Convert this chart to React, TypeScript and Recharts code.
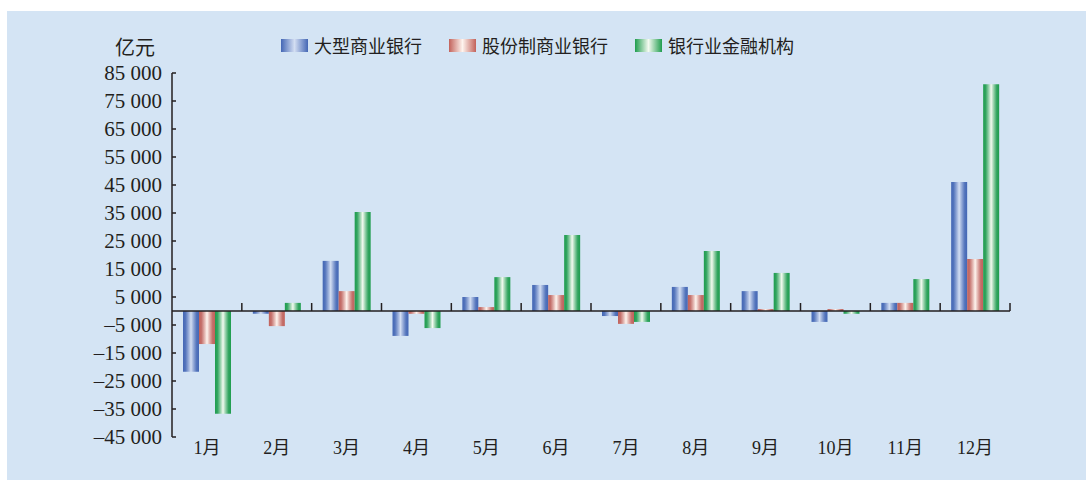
import React from 'react';
import { BarChart, Bar, XAxis, YAxis, ReferenceLine } from 'recharts';

// 单位：亿元
const months = ['1月', '2月', '3月', '4月', '5月', '6月', '7月', '8月', '9月', '10月', '11月', '12月'];
const largeBanks = [-21700, -1000, 17900, -8900, 5000, 9300, -1800, 8600, 7100, -3900, 2900, 46100];
const jointStockBanks = [-11800, -5400, 7100, -1000, 1400, 5700, -4600, 5700, 700, 700, 2900, 18600];
const allInstitutions = [-36700, 2900, 35400, -6100, 12100, 27100, -3900, 21400, 13600, -1000, 11400, 81000];
const yTicks = [-45000, -35000, -25000, -15000, -5000, 5000, 15000, 25000, 35000, 45000, 55000, 65000, 75000, 85000];

const seriesNames = ['大型商业银行', '股份制商业银行', '银行业金融机构'];

const data = months.map((m, i) => ({
  month: m,
  large: largeBanks[i],
  joint: jointStockBanks[i],
  all: allInstitutions[i],
}));

// layout
const W = 1079;
const H = 469;
const M = { top: 62, right: 76, bottom: 13, left: 65 };
const Y_AXIS_W = 100;
const X_AXIS_H = 30;
const PLOT_L = M.left + Y_AXIS_W;
const PLOT_R = W - M.right;
const PLOT_T = M.top;
const PLOT_B = H - M.bottom - X_AXIS_H;
const Y_MIN = -45000;
const Y_MAX = 85000;
const ZERO_Y = PLOT_T + ((PLOT_B - PLOT_T) * Y_MAX) / (Y_MAX - Y_MIN);
const BAND = (PLOT_R - PLOT_L) / months.length;

const INK = '#231f20';
const SERIF = '"Liberation Serif", "Noto Sans CJK SC", serif';
const CJK = '"Noto Sans CJK SC", sans-serif';

const gradients = [
  { id: 'gBlue', dark: '#4467b5', light: '#d3def2' },
  { id: 'gRed', dark: '#c2625b', light: '#fef4ee' },
  { id: 'gGreen', dark: '#1f9d4e', light: '#f3faf0' },
];

const formatY = (v: number) => {
  const s = Math.abs(v)
    .toString()
    .replace(/\B(?=(\d{3})+(?!\d))/g, ' ');
  return v < 0 ? `–${s}` : s;
};

const XTick = (props: any) => {
  const { x, payload } = props;
  const edge = x + BAND / 2;
  return (
    <g>
      <line x1={edge} x2={edge} y1={ZERO_Y - 8} y2={ZERO_Y} stroke={INK} strokeWidth={1.5} />
      <text
        x={x}
        y={PLOT_B + 11}
        textAnchor="middle"
        dominantBaseline="central"
        fontFamily={SERIF}
        fontSize={18}
        fill={INK}
      >
        {payload.value}
      </text>
    </g>
  );
};

const YTick = (props: any) => {
  const { y, payload } = props;
  return (
    <g>
      <line x1={PLOT_L} x2={PLOT_L + 4} y1={y} y2={y} stroke={INK} strokeWidth={1.5} />
      <text
        x={PLOT_L - 10}
        y={y}
        textAnchor="end"
        dominantBaseline="central"
        fontFamily={SERIF}
        fontSize={21}
        fill={INK}
      >
        {formatY(payload.value)}
      </text>
    </g>
  );
};

const ChartLegend = () => (
  <div
    style={{
      position: 'absolute',
      left: 274,
      top: 24,
      display: 'flex',
      alignItems: 'center',
      gap: 27,
      fontFamily: CJK,
      fontSize: 18,
      color: INK,
    }}
  >
    {seriesNames.map((name, i) => (
      <div key={name} style={{ display: 'flex', alignItems: 'center' }}>
        <span
          style={{
            display: 'inline-block',
            width: 27,
            height: 13,
            marginRight: 6,
            background: `linear-gradient(to right, ${gradients[i].dark}, ${gradients[i].light} 50%, ${gradients[i].dark})`,
          }}
        />
        <span style={{ lineHeight: '20px' }}>{name}</span>
      </div>
    ))}
  </div>
);

const App: React.FC = () => {
  return (
    <div style={{ position: 'absolute', left: 7, top: 11, width: W, height: H, background: '#d4e4f4' }}>
      <div
        style={{
          position: 'absolute',
          left: 108,
          top: 24,
          fontFamily: CJK,
          fontSize: 20,
          color: INK,
          lineHeight: '24px',
        }}
      >
        亿元
      </div>
      <ChartLegend />
      <BarChart width={W} height={H} data={data} margin={M} barGap={0} barSize={16}>
        <defs>
          {gradients.map((g) => (
            <linearGradient key={g.id} id={g.id} x1="0" y1="0" x2="1" y2="0">
              <stop offset="0%" stopColor={g.dark} />
              <stop offset="15%" stopColor={g.dark} stopOpacity={0.9} />
              <stop offset="50%" stopColor={g.light} />
              <stop offset="85%" stopColor={g.dark} stopOpacity={0.9} />
              <stop offset="100%" stopColor={g.dark} />
            </linearGradient>
          ))}
        </defs>
        <XAxis
          dataKey="month"
          height={X_AXIS_H}
          axisLine={false}
          tickLine={false}
          tick={<XTick />}
          interval={0}
        />
        <YAxis
          width={Y_AXIS_W}
          type="number"
          domain={[Y_MIN, Y_MAX]}
          ticks={yTicks}
          interval={0}
          axisLine={{ stroke: INK, strokeWidth: 1.5 }}
          tickLine={false}
          tick={<YTick />}
        />
        <ReferenceLine y={0} stroke={INK} strokeWidth={1.5} />
        <Bar dataKey="large" name={seriesNames[0]} fill="url(#gBlue)" isAnimationActive={false} />
        <Bar dataKey="joint" name={seriesNames[1]} fill="url(#gRed)" isAnimationActive={false} />
        <Bar dataKey="all" name={seriesNames[2]} fill="url(#gGreen)" isAnimationActive={false} />
      </BarChart>
    </div>
  );
};

export default App;
